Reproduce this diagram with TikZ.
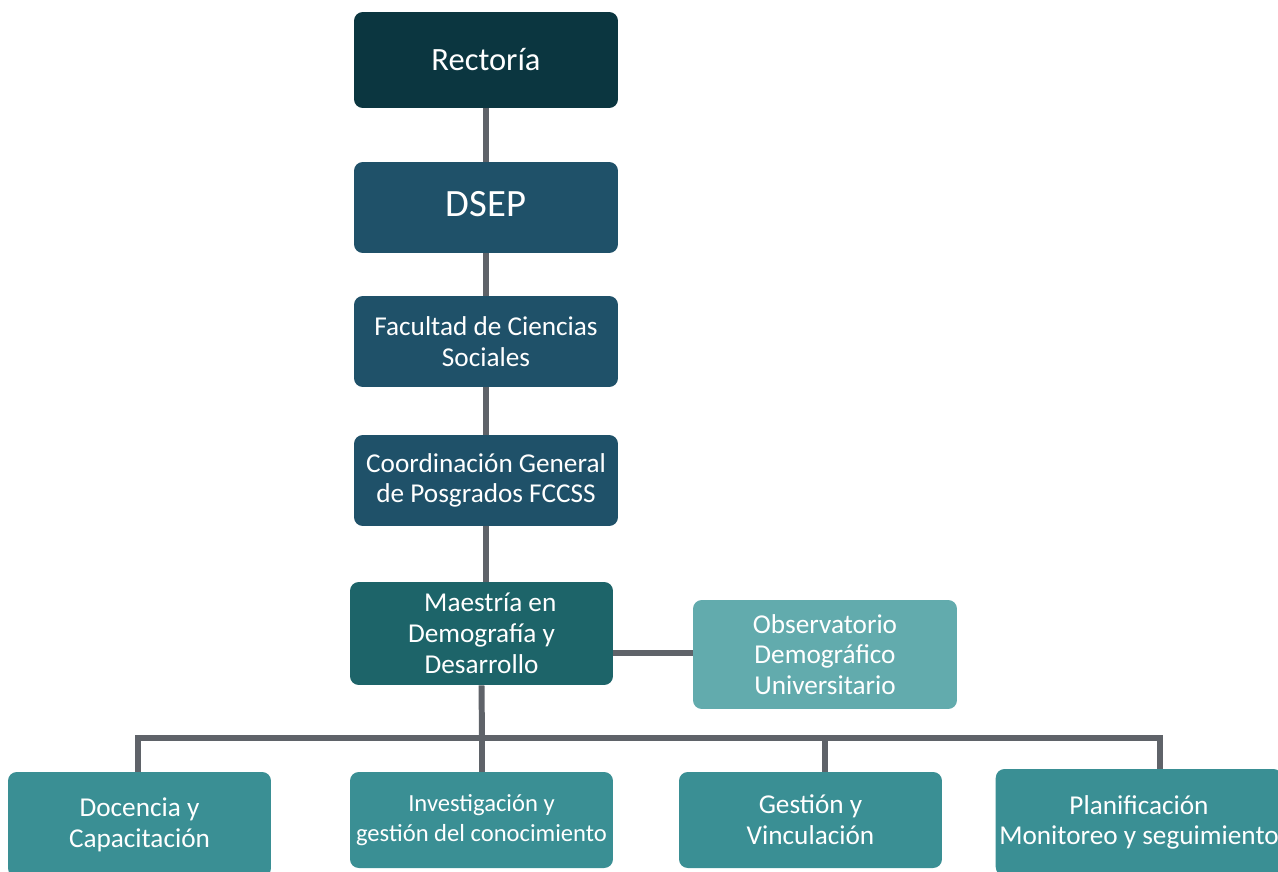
\documentclass[tikz,border=0pt]{standalone}
\usepackage{fontspec}
\setmainfont{Carlito}
\usetikzlibrary{positioning}
\definecolor{rectcol}{HTML}{0B3640}
\definecolor{dsepcol}{HTML}{1F5169}
\definecolor{maescol}{HTML}{1D6469}
\definecolor{obscol}{HTML}{62ABAD}
\definecolor{areacol}{HTML}{3A8F94}
\definecolor{linkcol}{HTML}{5F6369}
\tikzset{unit/.style={rounded corners=5pt,text=white,align=center,inner sep=2pt,
  font=\fontsize{15.5}{17.5}\selectfont}}
\tikzset{link/.style={draw=linkcol,line width=3.4pt}}

\begin{document}
\begin{tikzpicture}[x=0.02cm,y=-0.02cm]
  \path[use as bounding box,clip] (0,0) rectangle (1278,872);
  % chain of command
  \node[unit,fill=rectcol,minimum width=5.28cm,minimum height=1.92cm,
    font=\fontsize{18.5}{21}\selectfont] (rect) at (486,60) {Rectoría};
  \node[unit,fill=dsepcol,minimum width=5.28cm,minimum height=1.82cm,
    font=\fontsize{22}{24}\selectfont] (dsep) at (486,207.5) {\raisebox{4pt}{DSEP}};
  \node[unit,fill=dsepcol,minimum width=5.28cm,minimum height=1.82cm] (fac) at (486,341.5)
    {Facultad de Ciencias\\Sociales};
  \node[unit,fill=dsepcol,minimum width=5.28cm,minimum height=1.82cm] (coord) at (486,480.5)
    {Coordinación General\\de Posgrados FCCSS};
  \node[unit,fill=maescol,minimum width=5.26cm,minimum height=2.06cm] (maes) at (481.5,633.5)
    {\raisebox{-2pt}{\hspace{10pt}Maestría en}\\\raisebox{-2pt}{Demografía y}\\\raisebox{-2pt}{Desarrollo}};
  \node[unit,fill=obscol,minimum width=5.28cm,minimum height=2.18cm] (obs) at (825,654.5)
    {Observatorio\\Demográfico\\Universitario};
  % areas
  \node[unit,fill=areacol,minimum width=5.26cm,minimum height=2.1cm] (doc) at (139.5,824.5)
    {Docencia y\\Capacitación};
  \node[unit,fill=areacol,minimum width=5.26cm,minimum height=1.92cm,
    font=\fontsize{14}{17.5}\selectfont] (inv) at (481.5,820)
    {Investigación y\\gestión del conocimiento};
  \node[unit,fill=areacol,minimum width=5.26cm,minimum height=1.92cm] (gest) at (810.5,820)
    {Gestión y\\Vinculación};
  \node[unit,fill=areacol,minimum width=5.64cm,minimum height=2.14cm] (plan) at (1139,822.5)
    {Planificación\\Monitoreo y seguimiento};
  % connectors
  \draw[link] (rect) -- (dsep);
  \draw[link] (dsep) -- (fac);
  \draw[link] (fac) -- (coord);
  \draw[link] (coord.south) -- (coord.south |- maes.north);
  \draw[link] (maes.east |- 0,653) -- (obs.west |- 0,653);
  \coordinate (busL) at (138,738);
  \coordinate (busM) at (482,738);
  \coordinate (busG) at (825,738);
  \coordinate (busR) at (1160,738);
  \draw[link] (maes.south) -- (busM);
  \draw[link] (busL |- doc.north) -- (busL) -- (busR) -- (busR |- plan.north);
  \draw[link] (busM) -- (busM |- inv.north);
  \draw[link] (busG) -- (busG |- gest.north);
\end{tikzpicture}
\end{document}
